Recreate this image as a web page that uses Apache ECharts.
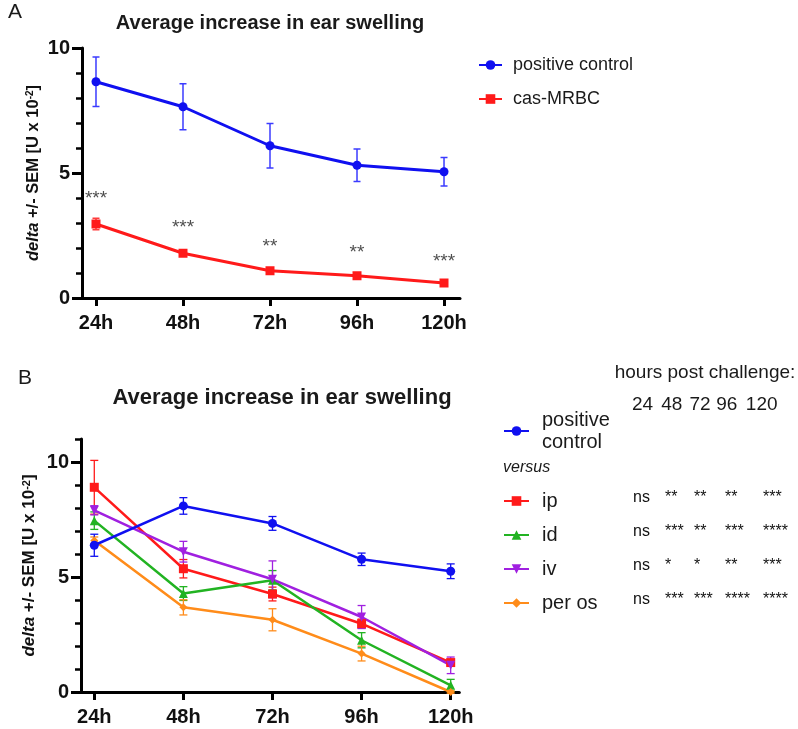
<!DOCTYPE html>
<html>
<head>
<meta charset="utf-8">
<script src="https://cdn.jsdelivr.net/npm/echarts@6/dist/echarts.min.js"></script>
<style>
html,body{margin:0;padding:0;background:#fff;}
#c{width:798px;height:729px;}
</style>
</head>
<body>
<div id="c"></div>
<script>
// ---------- data ----------
const hours = [24, 48, 72, 96, 120];
const hourTickLabels = ['24h', '48h', '72h', '96h', '120h'];
const yTickValues = [0, 5, 10];

// Panel A
const posCtrlA = [8.65, 7.65, 6.09, 5.31, 5.05];
const posCtrlASem = [0.99, 0.92, 0.89, 0.65, 0.57];
const casMrbc = [2.96, 1.79, 1.09, 0.89, 0.60];
const casMrbcSem = [0.23, 0.07, 0.12, 0.06, 0.06];
const starsA = ['***', '***', '**', '**', '***'];
const starsAY = [4.15, 3.01, 2.23, 1.99, 1.65];

// Panel B
const posCtrlB = [6.38, 8.09, 7.33, 5.77, 5.25];
const posCtrlBSem = [0.48, 0.36, 0.30, 0.27, 0.32];
const ipB = [8.90, 5.36, 4.26, 2.97, 1.28];
const ipBSem = [1.17, 0.40, 0.30, 0.20, 0.12];
const idB = [7.45, 4.28, 4.86, 2.25, 0.29];
const idBSem = [0.38, 0.30, 0.42, 0.33, 0.26];
const ivB = [7.90, 6.10, 4.90, 3.26, 1.16];
const ivBSem = [0.20, 0.45, 0.80, 0.50, 0.36];
const perOsB = [6.59, 3.68, 3.14, 1.67, 0.00];
const perOsBSem = [0.15, 0.33, 0.48, 0.32, 0.05];

const sigHeader = 'hours post challenge:';
const sigIp = ['ns', '**', '**', '**', '***'];
const sigId = ['ns', '***', '**', '***', '****'];
const sigIv = ['ns', '*', '*', '**', '***'];
const sigPerOs = ['ns', '***', '***', '****', '****'];

// ---------- styling ----------
const FONT = '"Liberation Sans", Arial, Helvetica, sans-serif';
const C = {
  pos: '#1010f0', red: '#ff1a1a', green: '#22b322', purple: '#a020e0', orange: '#ff8c1a'
};

function pts(vals) { return hours.map((h, i) => [h, vals[i]]); }
function errPts(vals, sems) { return hours.map((h, i) => [h, vals[i], sems[i]]); }

function errRender(color, cap, lw) {
  return function (params, api) {
    const x = api.value(0), y = api.value(1), e = api.value(2);
    const t = api.coord([x, y + e]);
    const b = api.coord([x, y - e]);
    const st = { stroke: color, lineWidth: lw };
    return {
      type: 'group',
      children: [
        { type: 'line', shape: { x1: t[0], y1: t[1], x2: b[0], y2: b[1] }, style: st },
        { type: 'line', shape: { x1: t[0] - cap, y1: t[1], x2: t[0] + cap, y2: t[1] }, style: st },
        { type: 'line', shape: { x1: b[0] - cap, y1: b[1], x2: b[0] + cap, y2: b[1] }, style: st }
      ]
    };
  };
}

function errSeries(name, vals, sems, color, xi, yi, cap, lw) {
  return {
    type: 'custom', name: name + ' SEM', xAxisIndex: xi, yAxisIndex: yi,
    renderItem: errRender(color, cap, lw), data: errPts(vals, sems),
    encode: { x: 0, y: 1 }, silent: true, z: 2
  };
}

function lineSeries(name, vals, color, xi, yi, symbol, size, lw, z) {
  return {
    type: 'line', name: name, xAxisIndex: xi, yAxisIndex: yi, data: pts(vals),
    symbol: symbol, symbolSize: size, showSymbol: true,
    lineStyle: { color: color, width: lw }, itemStyle: { color: color },
    z: z || 3, silent: true
  };
}

function xAxisCfg(gi, min, max) {
  return {
    type: 'value', gridIndex: gi, min: min, max: max,
    axisLine: { show: true, lineStyle: { color: '#000', width: 3 } },
    axisTick: { show: true, length: 8, lineStyle: { color: '#000', width: 3 }, customValues: hours },
    axisLabel: {
      show: true, customValues: hours, margin: 15,
      formatter: v => hourTickLabels[hours.indexOf(v)] || '',
      fontFamily: FONT, fontWeight: 'bold', fontSize: 20, color: '#111'
    },
    splitLine: { show: false }
  };
}

function yName(size) {
  return {
    name: '{i|delta} +/- SEM [U x 10{s|-2}]',
    nameLocation: 'middle', nameRotate: 90,
    nameTextStyle: {
      fontFamily: FONT, fontWeight: 'bold', fontSize: size, color: '#111',
      rich: {
        i: { fontFamily: FONT, fontWeight: 'bold', fontStyle: 'italic', fontSize: size, color: '#111' },
        s: { fontFamily: FONT, fontWeight: 'bold', fontSize: Math.round(size * 0.62), color: '#111', verticalAlign: 'top' }
      }
    }
  };
}

function yMinor(gi, max) {
  return {
    type: 'value', gridIndex: gi, min: 0, max: max, interval: 1, position: 'left',
    axisLine: { show: true, onZero: false, lineStyle: { color: '#000', width: 3 } },
    axisTick: { show: true, length: 6, lineStyle: { color: '#000', width: 2.5 } },
    axisLabel: { show: false }, splitLine: { show: false }
  };
}
function yMajor(gi, max, nameSize, nameGap) {
  return Object.assign({
    type: 'value', gridIndex: gi, min: 0, max: max, interval: 5, position: 'left',
    axisLine: { show: false },
    axisTick: { show: true, length: 10, lineStyle: { color: '#000', width: 3 }, customValues: yTickValues },
    axisLabel: {
      show: true, customValues: yTickValues, margin: 12,
      fontFamily: FONT, fontWeight: 'bold', fontSize: 20, color: '#111'
    },
    splitLine: { show: false },
    nameGap: nameGap
  }, yName(nameSize));
}

function txt(x, y, text, size, opts) {
  opts = opts || {};
  return {
    type: 'text', x: x, y: y, silent: true,
    style: {
      text: text, fontFamily: FONT, fontSize: size,
      fontWeight: opts.weight || 'normal', fontStyle: opts.style || 'normal',
      fill: opts.color || '#1a1a1a',
      align: opts.align || 'center', verticalAlign: 'middle',
      textAlign: opts.align || 'center', textVerticalAlign: 'middle'
    }
  };
}

const graphics = [
  txt(15, 12, 'A', 21),
  txt(25, 378, 'B', 21),
  txt(270, 23, 'Average increase in ear swelling', 20, { weight: 'bold' }),
  txt(282, 398, 'Average increase in ear swelling', 22, { weight: 'bold' }),
  txt(705, 373, sigHeader, 19),
  txt(503, 468, 'versus', 16, { style: 'italic', align: 'left' })
];
const hourColX = [642.5, 671.7, 700, 726.7, 761.7];
hours.forEach((h, i) => graphics.push(txt(hourColX[i], 405, String(h), 19)));
const sigColX = [633, 665, 694, 725, 763];
const sigRows = [sigIp, sigId, sigIv, sigPerOs];
const sigRowY = [498, 532, 566, 600];
sigRows.forEach((row, r) => row.forEach((s, c) => {
  graphics.push(txt(sigColX[c], sigRowY[r], s, 16, { align: 'left', color: '#111' }));
}));

const legendText = { fontFamily: FONT, fontSize: 18, color: '#1a1a1a', padding: [0, 0, 0, 6] };

const option = {
  animation: false,
  backgroundColor: '#fff',
  grid: [
    { left: 82, top: 48, width: 378, height: 250, containLabel: false },
    { left: 81, top: 439, width: 378.3, height: 253, containLabel: false }
  ],
  legend: [
    {
      data: ['positive control', 'cas-MRBC'], orient: 'vertical', left: 478, top: 56,
      padding: 0, itemGap: 16, itemWidth: 23, itemHeight: 12, textStyle: legendText,
      selectedMode: false
    },
    {
      data: [{ name: 'positive control B' }], orient: 'vertical', left: 503, top: 409,
      padding: 0, itemWidth: 25, itemHeight: 12, selectedMode: false,
      formatter: () => 'positive\ncontrol',
      textStyle: Object.assign({}, legendText, { fontSize: 20, lineHeight: 22, padding: [0, 0, 0, 8] })
    },
    {
      data: ['ip', 'id', 'iv', 'per os'], orient: 'vertical', left: 503, top: 490,
      padding: 0, itemGap: 12, itemWidth: 25, itemHeight: 12, selectedMode: false,
      textStyle: Object.assign({}, legendText, { fontSize: 20, lineHeight: 22, padding: [0, 0, 0, 8] })
    }
  ],
  xAxis: [xAxisCfg(0, 20.14, 124.41), xAxisCfg(1, 20.42, 122.32)],
  yAxis: [yMinor(0, 10), yMajor(0, 10, 16.5, 40), yMinor(1, 11), yMajor(1, 11, 17, 43)],
  graphic: graphics,
  series: [
    // Panel A
    errSeries('positive control', posCtrlA, posCtrlASem, '#3b3bff', 0, 1, 3.5, 1.5),
    errSeries('cas-MRBC', casMrbc, casMrbcSem, '#ff3b3b', 0, 1, 3.5, 1.5),
    lineSeries('positive control', posCtrlA, C.pos, 0, 1, 'circle', 9, 3),
    lineSeries('cas-MRBC', casMrbc, C.red, 0, 1, 'rect', 9, 3),
    {
      type: 'scatter', name: 'stars', xAxisIndex: 0, yAxisIndex: 1,
      data: hours.map((h, i) => [h, starsAY[i]]), symbolSize: 0, silent: true,
      label: {
        show: true, position: 'inside', offset: [0, 5],
        formatter: p => starsA[p.dataIndex],
        fontFamily: FONT, fontSize: 19, color: '#222'
      }
    },
    // Panel B
    errSeries('ip', ipB, ipBSem, C.red, 1, 3, 4, 1.3),
    errSeries('id', idB, idBSem, C.green, 1, 3, 4, 1.3),
    errSeries('iv', ivB, ivBSem, C.purple, 1, 3, 4, 1.3),
    errSeries('per os', perOsB, perOsBSem, C.orange, 1, 3, 4, 1.3),
    lineSeries('ip', ipB, C.red, 1, 3, 'rect', 9, 2.5),
    lineSeries('id', idB, C.green, 1, 3, 'triangle', 9, 2.5),
    lineSeries('iv', ivB, C.purple, 1, 3, 'path://M0,0L10,0L5,9Z', 9, 2.5),
    lineSeries('per os', perOsB, C.orange, 1, 3, 'diamond', 8, 2.5),
    errSeries('positive control B', posCtrlB, posCtrlBSem, C.pos, 1, 3, 4, 1.3),
    lineSeries('positive control B', posCtrlB, C.pos, 1, 3, 'circle', 9, 2.5, 4)
  ]
};

const chart = echarts.init(document.getElementById('c'), null, { renderer: 'canvas' });
chart.setOption(option);
</script>
</body>
</html>
